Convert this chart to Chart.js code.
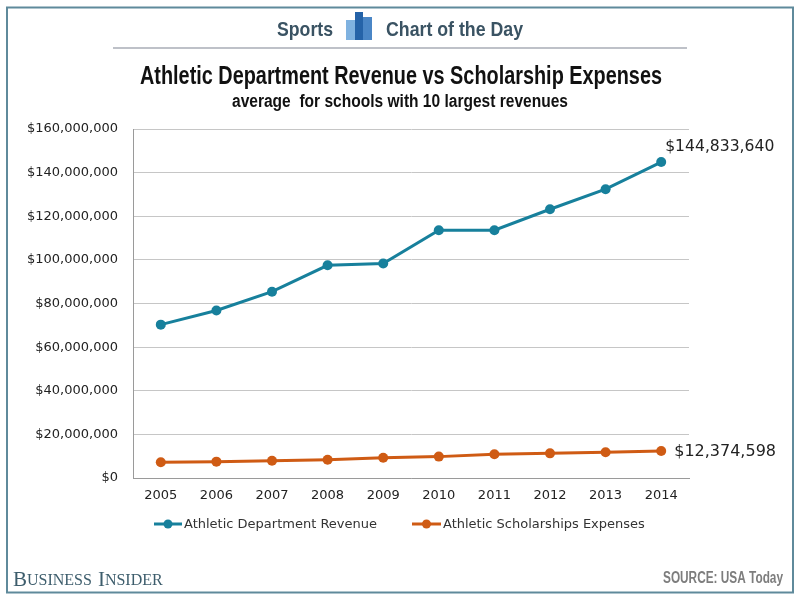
<!DOCTYPE html>
<html>
<head>
<meta charset="utf-8">
<title>Athletic Department Revenue vs Scholarship Expenses</title>
<script src="https://cdn.jsdelivr.net/npm/chart.js@4.4.0/dist/chart.umd.min.js"></script>
<style>
  html, body { margin: 0; padding: 0; background: #fff; }
  #chart { display: block; }
</style>
</head>
<body>
<canvas id="chart" width="800" height="600"></canvas>
<script>
// Values
const years = ["2005", "2006", "2007", "2008", "2009", "2010", "2011", "2012", "2013", "2014"];
const revenue = [70300000, 76800000, 85400000, 97500000, 98300000, 113600000, 113600000, 123200000, 132400000, 144833640];
const scholarships = [7200000, 7500000, 7900000, 8400000, 9300000, 9800000, 10900000, 11300000, 11800000, 12374598];
const yMin = 0;
const yMax = 160000000;
const yStep = 20000000;

const seriesNames = ["Athletic Department Revenue", "Athletic Scholarships Expenses"];
const seriesColors = ["#17809c", "#cf5b14"];

const condensed = '"Liberation Sans Narrow", "Liberation Sans", Arial, sans-serif';
const verdanaLike = '"DejaVu Sans", Verdana, sans-serif';

function dollars(v) {
  return "$" + Math.round(v).toLocaleString("en-US");
}

// Frame, header, legend, end labels and footer
const decorations = {
  id: "decorations",
  beforeDraw(chart) {
    const ctx = chart.ctx;
    ctx.save();
    ctx.fillStyle = "#ffffff";
    ctx.fillRect(0, 0, chart.width, chart.height);
    ctx.restore();
  },
  afterDraw(chart) {
    const ctx = chart.ctx;
    ctx.save();

    // outer frame
    ctx.strokeStyle = "#5f8a9b";
    ctx.lineWidth = 2;
    ctx.strokeRect(7, 7.5, 786, 585);

    // header: Sports [icon] Chart of the Day
    ctx.fillStyle = "#3a5363";
    ctx.textBaseline = "middle";
    ctx.textAlign = "left";
    ctx.font = "bold 21px " + condensed;
    ctx.fillText("Sports", 277, 30, 56);
    ctx.fillText("Chart of the Day", 386, 30, 137);

    ctx.fillStyle = "#7fb2e0";
    ctx.fillRect(346, 20, 9, 20);
    ctx.fillStyle = "#2563a8";
    ctx.fillRect(355, 12, 8, 28);
    ctx.fillStyle = "#4a86c6";
    ctx.fillRect(363, 17, 9, 23);

    // separator
    ctx.strokeStyle = "#a9adb6";
    ctx.lineWidth = 1.5;
    ctx.beginPath();
    ctx.moveTo(113, 48);
    ctx.lineTo(687, 48);
    ctx.stroke();

    // title and subtitle
    ctx.fillStyle = "#111111";
    ctx.textAlign = "center";
    ctx.font = "bold 25px " + condensed;
    ctx.fillText("Athletic Department Revenue vs Scholarship Expenses", 401, 77, 522);
    ctx.font = "bold 18px " + condensed;
    ctx.fillText("average  for schools with 10 largest revenues", 400, 102, 336);

    // end-of-line value labels
    const revMeta = chart.getDatasetMeta(0).data;
    const schMeta = chart.getDatasetMeta(1).data;
    const lastRev = revMeta[revMeta.length - 1];
    const lastSch = schMeta[schMeta.length - 1];
    ctx.fillStyle = "#222222";
    ctx.textAlign = "left";
    ctx.font = "15.6px " + verdanaLike;
    ctx.fillText(dollars(revenue[revenue.length - 1]), lastRev.x + 4, lastRev.y - 15);
    ctx.font = "16px " + verdanaLike;
    ctx.fillText(dollars(scholarships[scholarships.length - 1]), lastSch.x + 13, lastSch.y + 1);

    // legend
    const legendItems = [
      { x: 154, w: 28 },
      { x: 412, w: 29 },
    ];
    chart.data.datasets.forEach((ds, i) => {
      const it = legendItems[i];
      const y = 524;
      ctx.strokeStyle = ds.borderColor;
      ctx.lineWidth = 3;
      ctx.beginPath();
      ctx.moveTo(it.x, y);
      ctx.lineTo(it.x + it.w, y);
      ctx.stroke();
      ctx.fillStyle = ds.borderColor;
      ctx.beginPath();
      ctx.arc(it.x + it.w / 2, y, 4.5, 0, Math.PI * 2);
      ctx.fill();
      ctx.fillStyle = "#333333";
      ctx.font = "13px " + verdanaLike;
      ctx.fillText(ds.label, it.x + it.w + 2, y + 1);
    });

    // footer
    ctx.fillStyle = "#3d5d6c";
    let fx = 13;
    const words = ["BUSINESS", "INSIDER"];
    words.forEach((w, wi) => {
      ctx.font = "21px \"Liberation Serif\", serif";
      ctx.fillText(w[0], fx, 580);
      fx += ctx.measureText(w[0]).width;
      ctx.font = "16px \"Liberation Serif\", serif";
      const rest = w.slice(1);
      ctx.fillText(rest, fx, 581);
      fx += ctx.measureText(rest).width;
      if (wi === 0) fx += 6;
    });

    ctx.fillStyle = "#7d7d7d";
    ctx.textAlign = "right";
    ctx.font = "bold 16px " + condensed;
    ctx.fillText("SOURCE: USA Today", 783, 579, 120);

    ctx.restore();
  },
};

new Chart(document.getElementById("chart"), {
  type: "line",
  data: {
    labels: years,
    datasets: [
      {
        label: seriesNames[0],
        data: revenue,
        borderColor: seriesColors[0],
        backgroundColor: seriesColors[0],
        borderWidth: 3,
        pointRadius: 5,
        pointBorderWidth: 0,
        pointBackgroundColor: seriesColors[0],
        tension: 0,
      },
      {
        label: seriesNames[1],
        data: scholarships,
        borderColor: seriesColors[1],
        backgroundColor: seriesColors[1],
        borderWidth: 3,
        pointRadius: 5,
        pointBorderWidth: 0,
        pointBackgroundColor: seriesColors[1],
        tension: 0,
      },
    ],
  },
  options: {
    responsive: false,
    animation: false,
    layout: {
      padding: { top: 129, right: 111, bottom: 0, left: 0 },
    },
    plugins: {
      legend: { display: false },
      tooltip: { enabled: false },
    },
    scales: {
      x: {
        offset: true,
        grid: { display: true, color: "rgba(0,0,0,0)", drawTicks: false },
        border: { color: "#9a9a9a", width: 1 },
        ticks: {
          padding: 10,
          color: "#222222",
          font: { family: "DejaVu Sans", size: 13 },
          maxRotation: 0,
        },
        afterFit(scale) {
          scale.height = 122;
        },
      },
      y: {
        min: yMin,
        max: yMax,
        grid: { color: "#c6c6c6", drawTicks: false },
        border: { color: "#9a9a9a", width: 1 },
        ticks: {
          stepSize: yStep,
          padding: 15,
          color: "#222222",
          font: { family: "DejaVu Sans", size: 13 },
          callback: (v) => dollars(v),
        },
        afterFit(scale) {
          scale.width = 133;
        },
      },
    },
  },
  plugins: [decorations],
});
</script>
</body>
</html>
